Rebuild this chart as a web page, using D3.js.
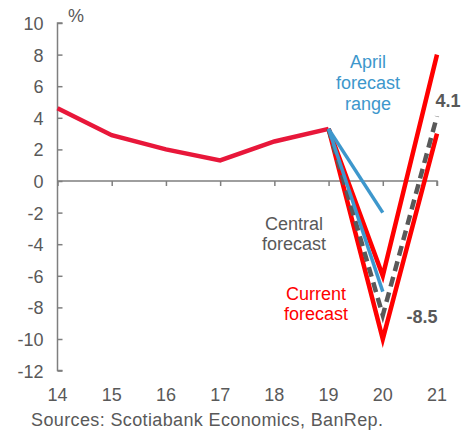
<!DOCTYPE html>
<html>
<head>
<meta charset="utf-8">
<script src="https://cdn.jsdelivr.net/npm/d3@7"></script>
<style>
  body { margin: 0; background: #fff; }
  svg { font-family: "Liberation Sans", Arial, sans-serif; }
</style>
</head>
<body>
<svg width="476" height="433"></svg>
<script>
const years = [14, 15, 16, 17, 18, 19, 20, 21]
const yTicks = [-12, -10, -8, -6, -4, -2, 0, 2, 4, 6, 8, 10]

const history = [[14, 4.6], [15, 2.9], [16, 2.0], [17, 1.3], [18, 2.5], [19, 3.3]]
const currentHigh = [[19, 3.3], [20, -6], [21, 8]]
const currentLow = [[19, 3.3], [20, -10], [21, 3]]
const central = [[19, 3.3], [20, -8.5], [21, 4.1]]
const aprilHigh = [[19, 3.3], [20, -2]]
const aprilLow = [[19, 3.3], [20, -7]]

const svg = d3.select('svg')
const x = d3.scaleLinear().domain([14, 21]).range([57.5, 437])
const y = d3.scaleLinear().domain([-12, 10]).range([370.6, 23])
const axisCol = '#7f7f7f'
const textCol = '#595959'
const fs = '18px'

// y axis, ticks pointing inward
const yAxis = svg.append('g')
  .attr('transform', `translate(${x(14)},0)`)
  .call(d3.axisRight(y).tickValues(yTicks).tickSize(5).tickFormat(d => String(d)))
yAxis.select('.domain').attr('stroke', axisCol).attr('stroke-width', 1.5)
  .attr('d', `M5,${y(10)}H0V${y(-12)}H5`)
yAxis.selectAll('.tick line').attr('stroke', axisCol).attr('stroke-width', 1.5)
yAxis.selectAll('.tick text')
  .attr('x', -14).attr('dy', '0.36em').attr('text-anchor', 'end')
  .attr('fill', textCol).style('font-size', fs).style('font-family', 'Liberation Sans, Arial, sans-serif')

// x axis through zero
const xAxis = svg.append('g')
  .attr('transform', `translate(0,${y(0)})`)
  .call(d3.axisBottom(x).tickValues(years).tickSize(5).tickFormat(''))
xAxis.select('.domain').attr('stroke', axisCol).attr('stroke-width', 1.5)
  .attr('d', `M${x(14)},0H${x(21)}V5`)
xAxis.selectAll('.tick line').attr('stroke', axisCol).attr('stroke-width', 1.5)

// x labels at the bottom
svg.append('g').selectAll('text').data(years).join('text')
  .attr('x', d => x(d)).attr('y', 401)
  .attr('text-anchor', 'middle').attr('fill', textCol).style('font-size', fs)
  .text(d => d)

const line = d3.line().x(d => x(d[0])).y(d => y(d[1]))

function drawLine (data, color, width, dash) {
  svg.append('path').datum(data)
    .attr('d', line)
    .attr('fill', 'none')
    .attr('stroke', color)
    .attr('stroke-width', width)
    .attr('stroke-linejoin', 'miter')
    .attr('stroke-dasharray', dash || null)
}

drawLine(history, '#e8173a', 4.5)
drawLine(currentHigh, '#ff0000', 4.5)
drawLine(currentLow, '#ff0000', 4.5)
drawLine(central, '#595959', 4.5, '10,6')
drawLine(aprilHigh, '#3d97cc', 3.5)
drawLine(aprilLow, '#3d97cc', 3.5)

function label (lines, cx, cy, color, anchor, weight, step) {
  const t = svg.append('text')
    .attr('text-anchor', anchor).attr('fill', color)
    .style('font-size', fs).style('font-weight', weight || 'normal')
  lines.forEach((s, i) => {
    t.append('tspan').attr('x', cx).attr('y', cy + i * (step || 21)).text(s)
  })
}

label(['%'], 68, 22, textCol, 'start')
label(['April', 'forecast', 'range'], 368, 68, '#3d97cc', 'middle')
label(['Central', 'forecast'], 294, 230, textCol, 'middle', null, 20)
label(['Current', 'forecast'], 316, 300, '#ff0000', 'middle', null, 20)
label(['4.1'], 448, 107, textCol, 'middle', 'bold')
label(['-8.5'], 422, 323, textCol, 'middle', 'bold')

svg.append('text')
  .attr('x', 31).attr('y', 426)
  .attr('fill', textCol).style('font-size', fs)
  .attr('textLength', 352).attr('lengthAdjust', 'spacing')
  .text('Sources: Scotiabank Economics, BanRep.')
</script>
</body>
</html>
